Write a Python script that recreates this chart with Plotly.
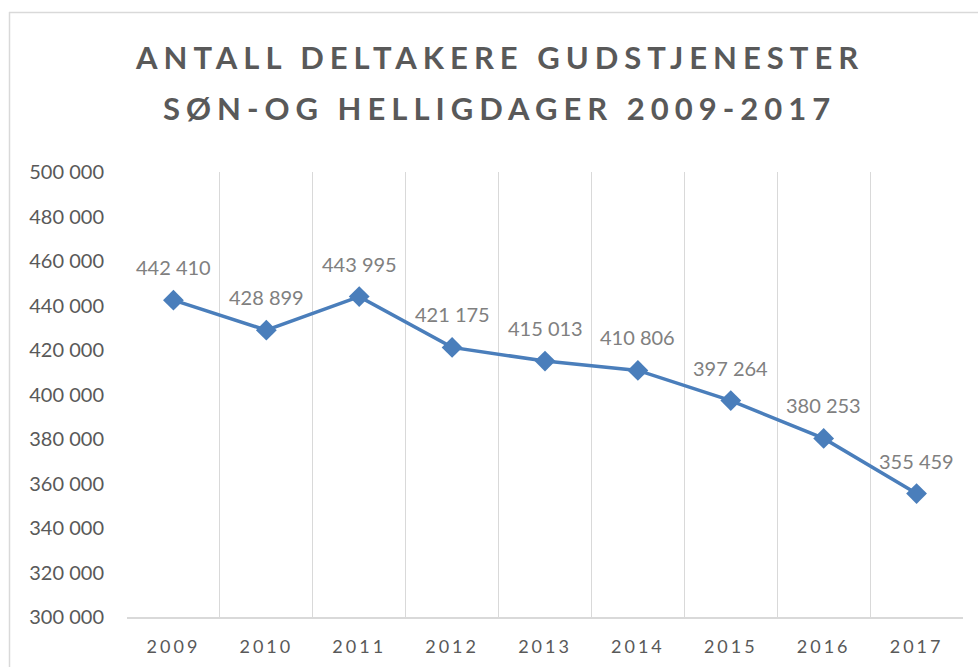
import plotly.graph_objects as go

years = ["2009", "2010", "2011", "2012", "2013", "2014", "2015", "2016", "2017"]
participants = [442410, 428899, 443995, 421175, 415013, 410806, 397264, 380253, 355459]
title_lines = ["ANTALL DELTAKERE GUDSTJENESTER", "SØN-OG HELLIGDAGER 2009-2017"]
y_ticks = list(range(300000, 500001, 20000))


def fmt(v):
    return f"{v:,}".replace(",", " ")


FONT = "Lato"
PLOT_TOP, PLOT_BOTTOM, PLOT_LEFT, PLOT_RIGHT = 172, 617, 127, 963
W, H = PLOT_RIGHT - PLOT_LEFT, PLOT_BOTTOM - PLOT_TOP


def px_x(x):
    return (x - PLOT_LEFT) / W


def px_y(y):
    return (PLOT_BOTTOM - y) / H


fig = go.Figure()
fig.add_trace(go.Scatter(
    x=years, y=participants, mode="lines+markers",
    line=dict(color="#4a7ebb", width=3.5),
    marker=dict(symbol="diamond", size=16, color="#4a7ebb"),
    hoverinfo="skip", showlegend=False,
))

annotations = []
for i, v in enumerate(participants):
    annotations.append(dict(
        x=i, y=v, xref="x", yref="y", text=fmt(v), showarrow=False,
        yshift=33, font=dict(family=FONT, size=20, color="#808080"),
    ))
for line, ypx in zip(title_lines, [57, 108]):
    annotations.append(dict(
        x=px_x(499), y=px_y(ypx), xref="paper", yref="paper",
        text="<b>" + line + "</b>", showarrow=False, xanchor="center", yanchor="middle",
        font=dict(family=FONT, size=31, color="#595959"),
    ))

shapes = [
    dict(type="line", xref="paper", yref="paper", x0=px_x(9), x1=px_x(990), y0=px_y(12.5), y1=px_y(12.5),
         line=dict(color="#d9d9d9", width=1.5)),
    dict(type="line", xref="paper", yref="paper", x0=px_x(9.5), x1=px_x(9.5), y0=px_y(12), y1=px_y(680),
         line=dict(color="#d9d9d9", width=1.5)),
]

fig.update_layout(
    width=978, height=667,
    margin=dict(l=PLOT_LEFT, r=978 - PLOT_RIGHT, t=PLOT_TOP, b=667 - PLOT_BOTTOM),
    paper_bgcolor="white", plot_bgcolor="white",
    annotations=annotations, shapes=shapes,
    xaxis=dict(
        type="category", range=[-0.5, len(years) - 0.5], tickson="boundaries",
        showgrid=True, gridcolor="#d9d9d9", gridwidth=1.3, automargin=False, tickangle=0,
        showline=True, linecolor="#d9d9d9", linewidth=1.5, ticks="", ticklabelstandoff=13,
        tickfont=dict(family=FONT, size=18, color="#595959"), fixedrange=True,
    ),
    yaxis=dict(
        range=[300000, 500000], tickvals=y_ticks, ticktext=[fmt(v) for v in y_ticks],
        showgrid=False, zeroline=False, showline=False, ticks="", ticklabelstandoff=22,
        automargin=False,
        tickfont=dict(family=FONT, size=20, color="#595959"), fixedrange=True,
    ),
)

post = """
document.body.style.margin = '0';
document.body.style.padding = '0';
var gd = document.getElementById('{plot_id}');
gd.querySelectorAll('.xtick text').forEach(function(t){t.style.letterSpacing='3px';});
gd.querySelectorAll('.annotation-text').forEach(function(t){
  if (t.textContent.indexOf('GUDSTJENESTER')>=0 || t.textContent.indexOf('HELLIGDAGER')>=0){ t.style.letterSpacing='6px'; }
});
"""
fig.write_html("out.html", post_script=post, config={"displayModeBar": False})
